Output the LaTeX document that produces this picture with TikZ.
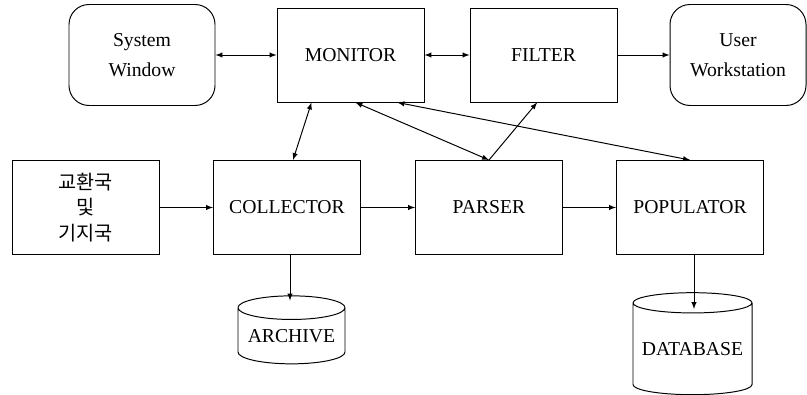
\documentclass[tikz,border=0pt]{standalone}
\usepackage{fontspec}
\setmainfont{Liberation Serif}
\newfontfamily\krfont{Noto Sans CJK KR}
\usepackage{tikz}
\usetikzlibrary{arrows,positioning,calc,shapes}
\tikzset{>=latex}
\tikzset{
  box/.style = {draw, align = center, minimum width = 3.675cm, minimum height = 2.35cm,
    font = \fontsize{14}{21}\selectfont},
  rbox/.style = {box, rounded corners = 0.5cm, minimum height = 2.525cm},
  store/.style = {draw, cylinder, shape border rotate = 90, align = center, inner sep = 0pt,
    font = \fontsize{14}{21}\selectfont}
}

\begin{document}
\begin{tikzpicture}
\useasboundingbox (0,0) rectangle (20.175,9.875);
\begin{scope}[line width = 0.7pt]
\node[rbox, minimum width = 3.65cm] (sysw) at (3.55,8.5) {System\\Window};
\node[box] (monitor) at (8.7625,8.5) {MONITOR};
\node[box] (filter) at (13.5875,8.5) {FILTER};
\node[rbox, minimum width = 3.4cm] (userws) at (18.45,8.5) {User\\Workstation};
\node[box, font = \krfont\fontsize{14}{18}\selectfont] (office) at (2.1375,4.6875) {교환국\\및\\기지국};
\node[box] (collector) at (7.175,4.6875) {COLLECTOR};
\node[box] (parser) at (12.225,4.6875) {PARSER};
\node[box] (populator) at (17.25,4.6875) {POPULATOR};
\node[store, minimum width = 2.675cm, minimum height = 1.7cm, aspect = 0.27] (archive) at (7.2875,1.475) {ARCHIVE};
\node[store, minimum width = 2.975cm, minimum height = 2.55cm, aspect = 0.2] (database) at (17.3125,1.15) {DATABASE};
\end{scope}
\begin{scope}[line width = 0.7pt]
\draw[<->,color=black] (sysw.east) to (sysw.east -| monitor.west);
\draw[<->,color=black] (monitor.east) to (filter.west);
\draw[->,color=black] (filter.east) to (filter.east -| userws.west);
\draw[->,color=black] (office.east) to (collector.west);
\draw[->,color=black] (collector.east) to (parser.west);
\draw[->,color=black] (parser.east) to (populator.west);
\draw[<->,color=black] ([xshift=0.875cm]monitor.south west) to ([xshift=0.15cm]collector.north);
\draw[<->,color=black] ([xshift=0.125cm]monitor.south) to (parser.north);
\draw[->,color=black] (parser.north) to ([xshift=-0.16cm]filter.south);
\draw[<->,color=black] ([xshift=-0.675cm]monitor.south east) to (populator.north);
\draw[->,color=black] ([xshift=0.075cm]collector.south) to ([xshift=0.075cm,yshift=-0.13cm]collector.south |- archive.top);
\draw[->,color=black] ([xshift=0.1cm]populator.south) to ([xshift=0.1cm,yshift=-0.42cm]populator.south |- database.top);
\end{scope}
%\draw[help lines] (0,0) grid (20,10) ;
\end{tikzpicture}
\end{document}
